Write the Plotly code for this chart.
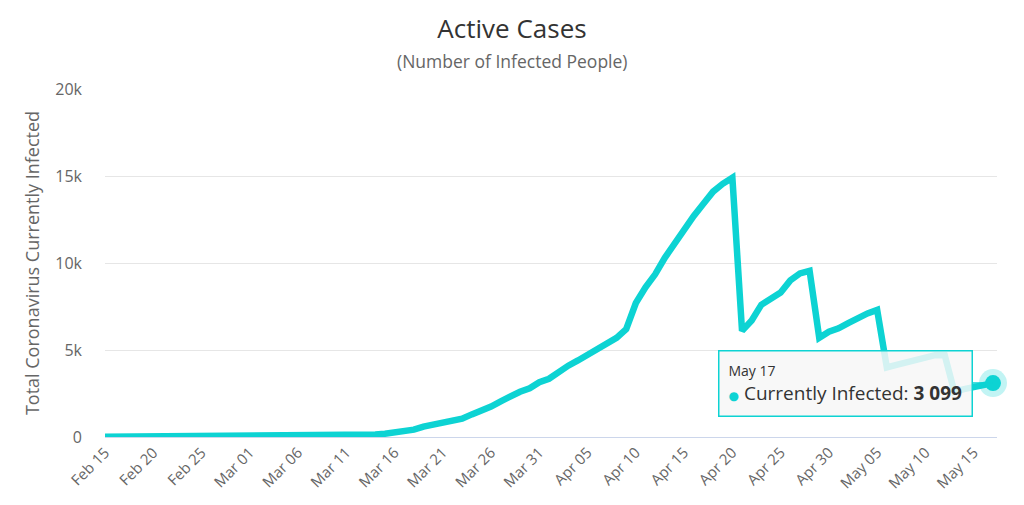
import plotly.graph_objects as go
import pandas as pd

# ---- data ----
start_date = "2020-02-15"
active_cases = [
    10, 12, 12, 14, 15, 15, 16, 18, 18, 20,          # Feb 15 - Feb 24
    20, 22, 24, 25, 28, 30, 32, 35, 40, 45,          # Feb 25 - Mar 05
    55, 60, 70, 80, 90, 100, 110, 125, 150, 190,     # Mar 06 - Mar 15
    250, 320, 420, 600, 720, 800, 900, 1050, 1300, 1500,   # Mar 16 - Mar 25
    1750, 2050, 2350, 2600, 2800, 3150, 3350, 3750, 4100, 4400,  # Mar 26 - Apr 04
    4750, 5050, 5350, 5700, 6200, 7700, 8600, 9350, 10300, 11100,  # Apr 05 - Apr 14
    12000, 12700, 13400, 14100, 14550, 14900, 6100, 6700, 7600, 7950,  # Apr 15 - Apr 24
    8300, 9000, 9400, 9550, 5700, 6050, 6250, 6550, 6850, 7100,  # Apr 25 - May 04
    7300, 4000, 4150, 4300, 4450, 4550, 4700, 4700, 2600, 2750,  # May 05 - May 14
    2850, 2950, 3099,                                # May 15 - May 17
]
dates = pd.date_range(start_date, periods=len(active_cases), freq="D")

title_text = "Active Cases"
subtitle_text = "(Number of Infected People)"
y_title = "Total Coronavirus Currently Infected"
series_name = "Currently Infected"
tooltip_date = "May 17"
tooltip_value = "3 099"

LINE = "#0dd3d3"
FONT = "Open Sans, Noto Sans, DejaVu Sans, sans-serif"

W, H = 1024, 505
ML, MR, MT, MB = 105, 27, 89, 68

fig = go.Figure()
fig.add_trace(go.Scatter(
    x=dates, y=active_cases, mode="lines", name=series_name,
    line=dict(color=LINE, width=6.5),
    hovertemplate="%{x|%b %d}<br>" + series_name + ": <b>%{y}</b><extra></extra>",
))
# highlighted last point (halo + dot)
fig.add_trace(go.Scatter(
    x=[dates[-1]], y=[active_cases[-1]], mode="markers", showlegend=False,
    marker=dict(size=28, color="rgba(13,211,211,0.25)"), hoverinfo="skip",
    cliponaxis=False,
))
fig.add_trace(go.Scatter(
    x=[dates[-1]], y=[active_cases[-1]], mode="markers", showlegend=False,
    marker=dict(size=16, color=LINE), hoverinfo="skip", cliponaxis=False,
))

x_end = dates[-1] + pd.Timedelta(hours=10)

fig.update_layout(
    width=W, height=H,
    margin=dict(l=ML, r=MR, t=MT, b=MB, pad=0, autoexpand=False),
    paper_bgcolor="white", plot_bgcolor="white",
    showlegend=False,
    font=dict(family=FONT, color="#666666"),
    title=dict(
        text=title_text, xref="container", yref="container",
        x=0.5, y=1 - 29 / H, xanchor="center", yanchor="middle",
        font=dict(size=26, color="#333333", family=FONT),
    ),
    xaxis=dict(
        type="date", range=[dates[0], x_end],
        tick0=start_date, dtick=5 * 86400000, tickformat="%b %d",
        tickangle=-45, tickfont=dict(size=15, color="#666666"),
        showgrid=False, showline=True, linecolor="#ccd6eb", linewidth=1,
        ticks="", zeroline=False, fixedrange=True,
    ),
    yaxis=dict(
        range=[0, 20000], dtick=5000, tickformat="~s",
        tickfont=dict(size=16, color="#666666"),
        gridcolor="#e6e6e6", gridwidth=1, zeroline=False,
        showline=False, ticks="", ticklabelstandoff=22,
        title=dict(text=y_title, font=dict(size=18, color="#666666"), standoff=10),
        fixedrange=True,
    ),
)

plot_h = H - MT - MB
plot_w = W - ML - MR
fig.add_annotation(
    text=subtitle_text, xref="paper", yref="paper",
    x=(W / 2 - ML) / plot_w, y=(H - MB - 61) / plot_h,
    xanchor="center", yanchor="middle", showarrow=False,
    font=dict(size=17.5, color="#666666", family=FONT),
)

# tooltip-like box
fig.add_annotation(
    x=dates[-1], y=active_cases[-1], xref="x", yref="y",
    text=(f"<span style='font-size:14px'>{tooltip_date}</span><br>"
          f"<span style='color:{LINE};font-size:12px'>●</span> {series_name}: <b>{tooltip_value}</b>"),
    showarrow=True, arrowhead=0, arrowwidth=1.5, arrowcolor=LINE,
    ax=-20, ay=0, xanchor="right", yanchor="middle", align="left",
    bgcolor="rgba(247,247,247,0.85)", bordercolor=LINE, borderwidth=1.5, borderpad=9,
    font=dict(size=19, color="#333333", family=FONT),
)

fig.write_html("out.html", config={"displayModeBar": False})

# remove default page margin so the figure sits at the window's top-left corner
with open("out.html", "r", encoding="utf-8") as f:
    html = f.read()
html = html.replace("<body>", "<body style=\"margin:0\">", 1)
with open("out.html", "w", encoding="utf-8") as f:
    f.write(html)
